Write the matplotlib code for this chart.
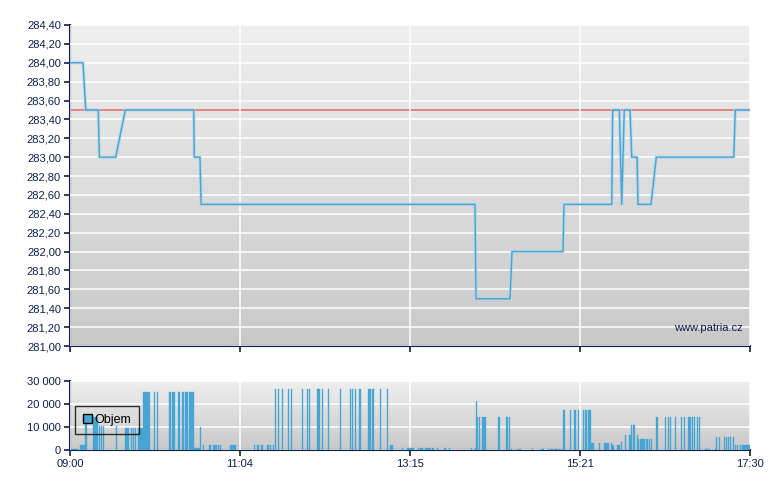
import numpy as np
import matplotlib
matplotlib.use('Agg')
import matplotlib.pyplot as plt
from matplotlib.colors import LinearSegmentedColormap
from matplotlib.patches import Patch
from matplotlib.ticker import FuncFormatter, MultipleLocator

# price path, minutes after 09:00
price_t = [0, 9.75, 11.8, 21.2, 22.0, 34.3, 41.5, 92.8, 93.2, 97.5, 98.3,
           303.75, 304.5, 330, 331.5, 369.75, 370.5, 406.3, 407, 412, 413.8,
           415.7, 420, 421.3, 425.3, 426, 435.75, 439.7, 497.8, 499, 510]
price_v = [284.0, 284.0, 283.5, 283.5, 283.0, 283.0, 283.5, 283.5, 283.0, 283.0, 282.5,
           282.5, 281.5, 281.5, 282.0, 282.0, 282.5, 282.5, 283.5, 283.5, 282.5,
           283.5, 283.5, 283.0, 283.0, 282.5, 282.5, 283.0, 283.0, 283.5, 283.5]
prev_close = 283.5

# volume bars: start minute, duration (minutes), volume
vol_t = [0.75, 7.5, 11.25, 17.25, 21.75, 23.25, 24.75, 34.5, 41.25, 45.75, 47.25, 48.75, 51,
         54.75, 63, 65.25, 74.25, 76.5, 81, 84, 86.25, 89.25, 93, 97.5, 99.75, 104.25, 107.25,
         111, 112.5, 120, 138, 140.25, 143.25, 147.75, 150, 152.25, 153.75, 156, 159, 163.5,
         165.75, 174, 177.75, 179.25, 185.25, 189, 193.5, 202.5, 210, 211.5, 213.75, 216.75,
         223.5, 226.5, 232.5, 237.75, 240, 249, 252.75, 261, 262.5, 266.25, 271.5, 275.25,
         280.5, 284.25, 300.75, 303.75, 304.5, 305.25, 306.75, 309, 321, 327, 329.25, 330.75,
         335.25, 336.75, 346.5, 353.25, 358.5, 360, 363, 366.75, 368.25, 369.75, 375, 378, 381,
         384.75, 386.25, 388.5, 390.75, 396.75, 400.5, 405.75, 406.5, 410.25, 413.25, 416.25,
         419.25, 420.75, 422.25, 425.25, 426, 427.5, 432, 434.25, 435.75, 439.5, 446.25, 448.5,
         450, 453.75, 458.25, 460.5, 463.5, 466.5, 468, 470.25, 471.75, 476.25, 479.25, 483.75,
         484.5, 486.75, 490.5, 492, 493.5, 495, 497.25, 498.75, 500.25, 502.5, 504]
vol_len = [5.25, 3.75, 1.5, 3.75, 0.75, 0.75, 0.75, 0.75, 3, 0.75, 0.75, 0.75, 3.75,
           5.25, 0.75, 0.75, 1.5, 2.25, 1.5, 1.5, 2.25, 3.75, 4.5, 0.75, 0.75, 1.5, 3,
           0.75, 0.75, 4.5, 0.75, 1.5, 1.5, 1.5, 0.75, 0.75, 0.75, 0.75, 0.75, 0.75,
           0.75, 0.75, 0.75, 0.75, 2.25, 0.75, 0.75, 0.75, 0.75, 0.75, 0.75, 1.5,
           2.25, 1.5, 0.75, 0.75, 2.25, 0.75, 5.25, 0.75, 2.25, 4.5, 1.5, 0.75,
           1.5, 0.75, 0.75, 0.75, 0.75, 0.75, 0.75, 3, 1.5, 1.5, 0.75, 0.75,
           0.75, 1.5, 0.75, 2.25, 0.75, 2.25, 3, 0.75, 0.75, 1.5, 0.75, 1.5, 0.75,
           0.75, 1.5, 2.25, 2.25, 0.75, 3.75, 0.75, 1.5, 2.25, 0.75, 0.75,
           1.5, 0.75, 1.5, 0.75, 0.75, 3.75, 1.5, 0.75, 0.75, 1.5, 0.75, 0.75,
           0.75, 0.75, 0.75, 0.75, 2.25, 0.75, 0.75, 0.75, 0.75, 2.25, 0.75, 0.75,
           0.75, 0.75, 0.75, 0.75, 0.75, 0.75, 0.75, 0.75, 0.75, 0.75, 6]
vol_v = [500, 2200, 14000, 14300, 10400, 10400, 10400, 10400, 9700, 9700, 9700, 9700, 9700,
         25000, 25000, 25000, 25000, 25000, 25000, 25000, 25000, 25000, 700, 10000, 2200, 2200, 2200,
         2200, 2200, 2200, 2200, 2200, 2200, 2200, 2200, 2200, 26400, 26400, 26400, 26400,
         26400, 26400, 26400, 26400, 26400, 26400, 26400, 26400, 26400, 26400, 26400, 26400,
         26400, 26400, 26400, 26400, 2200, 900, 900, 900, 900, 900, 900, 900,
         900, 900, 900, 900, 21200, 14300, 14300, 14300, 14300, 14300, 14300, 600,
         600, 600, 600, 600, 600, 600, 600, 600, 600, 17300, 17300, 17300, 17300,
         17300, 17300, 17300, 3000, 3000, 3000, 3000, 2200, 2200, 3500, 6500,
         6500, 10800, 10800, 6500, 4800, 4800, 4800, 4800, 4800, 14300, 14300, 14300,
         14300, 14300, 14300, 14300, 14300, 14300, 14300, 14300, 14300, 600, 600, 600,
         5600, 5600, 5600, 5600, 5600, 5600, 5600, 2200, 2200, 2200, 2200]

tick_pos = [0, 127.5, 255, 382.5, 510]
tick_lab = ['09:00', '11:04', '13:15', '15:21', '17:30']

navy = '#0b1f4d'
blue = '#47a5d3'
plt.rcParams['font.family'] = ['Liberation Sans', 'DejaVu Sans']
plt.rcParams['font.size'] = 8

cmap = LinearSegmentedColormap.from_list('bg', ['#c9c9c9', '#efefef'])


def style_axes(ax, y0, y1):
    grad = np.linspace(0, 1, 256).reshape(-1, 1)
    ax.imshow(grad, cmap=cmap, extent=[0, 510, y0, y1], aspect='auto',
              origin='lower', zorder=0)
    ax.set_xlim(0, 510)
    ax.set_ylim(y0, y1)
    for s in ['top', 'right']:
        ax.spines[s].set_visible(False)
    for s in ['left', 'bottom']:
        ax.spines[s].set_color(navy)
        ax.spines[s].set_linewidth(1.5)
    ax.tick_params(colors=navy, labelcolor=navy, length=4, width=1.2, pad=2.5)
    ax.set_xticks(tick_pos)
    ax.grid(True, color='white', lw=1.1, zorder=1)
    ax.set_axisbelow(False)


fig = plt.figure(figsize=(7.8, 4.9), dpi=100)
ax1 = fig.add_axes([70 / 780, 1 - 346 / 490, 680 / 780, 321 / 490])
ax2 = fig.add_axes([70 / 780, 1 - 450 / 490, 680 / 780, 69.5 / 490])

# price panel
style_axes(ax1, 281.0, 284.4)
ax1.yaxis.set_major_locator(MultipleLocator(0.2))
ax1.yaxis.set_major_formatter(FuncFormatter(lambda v, p: ('%.2f' % v).replace('.', ',')))
ax1.set_xticklabels([])
ax1.axhline(prev_close, color='#e2403f', lw=1.1, alpha=0.75, zorder=2)
ax1.plot(price_t, price_v, color='#a9d5ec', lw=2.4, alpha=0.7, zorder=3)
ax1.plot(price_t, price_v, color='#4aa3d3', lw=1.0, zorder=4)
ax1.text(0.99, 0.055, 'www.patria.cz', transform=ax1.transAxes, ha='right',
         va='center', color=navy, fontsize=8)

# volume panel
style_axes(ax2, 0, 30000)
ax2.yaxis.set_major_locator(MultipleLocator(10000))
ax2.yaxis.set_major_formatter(FuncFormatter(lambda v, p: '{:,.0f}'.format(v).replace(',', ' ')))
ax2.set_xticklabels(tick_lab)
ax2.bar(vol_t, vol_v, width=vol_len, align='edge', color=blue, edgecolor=blue,
        lw=0.25, zorder=3)
leg = ax2.legend(handles=[Patch(facecolor=blue, edgecolor='black', lw=1, label='Objem')],
                 loc='lower left', bbox_to_anchor=(0.007, 0.23), borderaxespad=0,
                 frameon=True, fancybox=False, edgecolor='black',
                 handlelength=0.7, handleheight=0.7, handletextpad=0.2,
                 borderpad=0.65, fontsize=9)
leg.get_frame().set_facecolor('none')
leg.get_frame().set_linewidth(1.0)
leg.set_zorder(5)

fig.savefig('out.png', dpi=100)
